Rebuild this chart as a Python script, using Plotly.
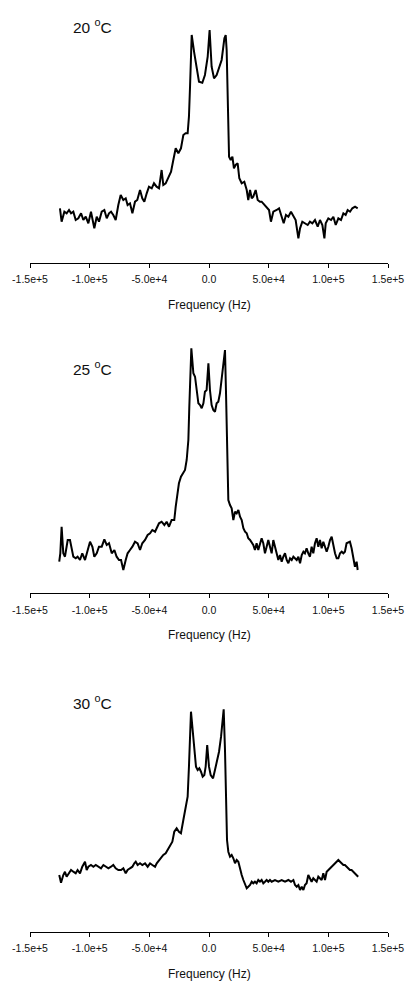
import plotly.graph_objects as go

# ---------------- data (frequency in kHz, intensity in arbitrary units) ----------------
freq_20 = [-124.9, -123.5, -121.2, -119.3, -117.3, -115.6, -113.7, -111.7, -109.5, -107.2,
           -105.3, -103.3, -101.1, -98.9, -96.1, -94.1, -92.2, -89.9, -87.7, -85.7,
           -83.8, -82.1, -80.2, -78.2, -76.0, -74.0, -71.8, -69.8, -68.2, -66.2,
           -64.2, -62.0, -60.1, -57.8, -55.9, -54.2, -52.2, -50.3, -48.0, -46.1,
           -43.9, -41.9, -39.7, -38.3, -36.3, -34.1, -31.8, -29.9, -27.9, -25.7,
           -23.5, -21.5, -19.6, -17.9, -16.8, -15.9, -15.1, -14.5, -12.3, -10.3,
           -8.4, -5.6, -3.4, -1.1, 0.5, 2.2, 4.2, 6.4, 8.4, 10.6,
           12.9, 14.0, 14.8, 15.6, 16.8, 18.2, 19.6, 20.9, 22.3, 24.0,
           25.4, 27.4, 29.6, 31.6, 32.9, 34.4, 35.8, 37.1, 39.1, 40.8,
           42.7, 44.1, 46.4, 48.3, 50.3, 51.9, 53.9, 56.7, 58.7, 60.9,
           62.6, 64.5, 66.5, 68.7, 70.7, 72.6, 74.9, 76.3, 78.2, 80.4,
           82.7, 84.6, 86.6, 88.8, 91.1, 93.0, 95.0, 96.7, 97.8, 100.0,
           102.3, 104.2, 106.2, 108.4, 110.6, 112.6, 114.5, 116.2, 118.2, 120.1,
           122.4, 124.6]
int_20 = [54.4, 41.0, 51.0, 49.4, 52.7, 49.4, 51.0, 42.7, 44.4, 49.4,
          42.7, 46.0, 39.4, 51.0, 34.4, 46.0, 41.0, 51.0, 52.7, 44.4,
          49.4, 51.0, 47.7, 42.7, 57.7, 67.7, 62.7, 64.4, 57.7, 59.4,
          49.4, 61.0, 62.7, 72.7, 64.4, 61.0, 69.4, 76.0, 74.4, 79.4,
          76.0, 74.4, 92.7, 77.7, 79.4, 86.0, 91.0, 102.7, 114.4, 109.4,
          114.4, 127.7, 129.4, 129.4, 146.0, 176.0, 209.4, 227.7, 209.4, 192.7,
          181.0, 180.0, 187.7, 206.0, 232.7, 196.0, 184.4, 187.7, 196.0, 202.7,
          224.4, 227.7, 212.7, 159.4, 106.0, 102.7, 106.0, 94.4, 97.7, 99.4,
          84.4, 79.4, 81.0, 72.7, 62.7, 72.7, 64.4, 66.0, 72.7, 62.7,
          61.0, 61.0, 57.7, 54.4, 52.7, 41.0, 51.0, 52.7, 54.4, 46.0,
          39.4, 47.7, 46.0, 51.0, 46.0, 42.7, 24.4, 34.4, 41.0, 39.4,
          37.7, 41.0, 39.4, 42.7, 36.0, 42.7, 37.7, 24.4, 39.4, 44.4,
          42.7, 46.0, 37.7, 44.4, 42.7, 49.4, 47.7, 52.7, 51.0, 54.4,
          56.0, 54.4]

freq_25 = [-125.5, -124.6, -123.5, -122.1, -120.7, -118.4, -116.5, -115.1, -113.7, -111.7,
           -110.1, -108.1, -106.2, -103.9, -101.7, -99.7, -97.7, -96.1, -94.1, -92.2,
           -89.9, -87.7, -85.7, -83.8, -81.5, -79.3, -77.4, -75.4, -73.7, -71.8,
           -69.8, -68.2, -66.2, -64.2, -62.0, -59.8, -57.8, -55.9, -53.6, -51.4,
           -49.4, -47.5, -45.2, -43.8, -41.9, -39.7, -37.4, -35.5, -33.5, -31.3,
           -29.1, -27.9, -26.3, -25.2, -23.5, -21.5, -20.1, -18.7, -17.3, -16.5,
           -15.6, -14.8, -13.1, -11.7, -10.3, -8.9, -7.5, -6.1, -4.7, -3.4,
           -2.0, -0.5, 0.8, 2.2, 3.6, 5.0, 6.4, 7.8, 9.2, 10.6,
           12.0, 13.4, 14.2, 15.1, 16.2, 17.6, 19.0, 20.4, 21.8, 23.2,
           24.6, 26.0, 27.4, 28.8, 30.2, 31.6, 32.9, 34.4, 35.8, 37.1,
           38.5, 39.9, 41.3, 42.7, 44.1, 45.5, 46.9, 48.3, 49.7, 51.1,
           52.5, 53.9, 55.3, 56.7, 58.1, 59.5, 60.9, 62.3, 63.7, 65.1,
           66.5, 67.9, 69.3, 70.7, 72.1, 73.5, 74.9, 76.3, 77.7, 79.1,
           80.4, 81.8, 83.2, 84.6, 86.0, 87.4, 88.8, 90.2, 91.6, 93.0,
           94.4, 95.8, 97.2, 98.6, 100.0, 101.4, 102.8, 104.2, 105.6, 107.0,
           108.4, 109.8, 111.2, 112.6, 113.9, 115.3, 116.7, 118.1, 119.5, 121.0,
           122.3, 123.7, 124.6]
int_25 = [31.6, 40.0, 66.6, 40.0, 36.6, 53.3, 53.3, 43.3, 36.6, 35.0,
          36.6, 33.3, 40.0, 33.3, 43.3, 51.6, 46.6, 36.6, 40.0, 46.6,
          46.6, 54.0, 48.3, 50.0, 40.0, 43.3, 36.6, 33.3, 33.3, 23.3,
          33.3, 40.0, 43.3, 46.6, 51.6, 50.0, 43.3, 50.0, 53.3, 58.3,
          60.0, 63.3, 61.6, 65.0, 70.0, 71.6, 68.3, 71.6, 66.6, 73.3,
          73.3, 86.6, 103.3, 110.0, 116.6, 120.0, 123.3, 133.3, 153.3, 186.6,
          220.0, 245.0, 220.0, 216.6, 203.3, 190.0, 188.3, 185.0, 190.0, 201.6,
          203.3, 230.0, 203.3, 188.3, 183.3, 181.6, 190.0, 191.6, 200.0, 216.6,
          233.3, 243.3, 203.3, 136.6, 93.3, 88.3, 85.0, 73.3, 81.6, 80.0,
          83.3, 76.6, 73.3, 65.0, 61.6, 60.0, 55.0, 53.3, 50.0, 48.3,
          43.3, 50.0, 43.3, 48.3, 55.0, 50.0, 40.0, 46.6, 53.3, 46.6,
          40.0, 53.3, 46.6, 40.0, 33.3, 38.3, 31.6, 36.6, 40.0, 33.3,
          30.0, 35.0, 33.3, 36.6, 35.0, 33.3, 36.6, 30.0, 38.3, 41.6,
          40.0, 45.0, 40.0, 36.6, 46.6, 40.0, 50.0, 55.0, 46.6, 53.3,
          45.0, 51.6, 46.6, 41.6, 46.6, 53.3, 56.6, 46.6, 40.0, 35.0,
          35.0, 40.0, 41.6, 40.0, 41.6, 50.0, 50.6, 51.6, 45.0, 36.6,
          26.6, 31.6, 23.3]

freq_30 = [-125.5, -124.0, -122.1, -120.7, -119.3, -117.3, -115.6, -113.7, -111.7, -110.1,
           -108.1, -106.2, -103.9, -102.5, -101.1, -98.9, -96.9, -94.9, -92.7, -90.5,
           -88.5, -86.5, -84.3, -82.1, -80.2, -78.2, -76.0, -73.7, -71.8, -69.8,
           -68.2, -66.2, -64.2, -62.6, -61.4, -59.8, -57.8, -55.9, -53.6, -51.4,
           -49.4, -47.5, -45.2, -43.8, -41.9, -40.2, -38.3, -36.3, -34.7, -32.7,
           -30.7, -29.1, -27.1, -25.2, -23.5, -21.5, -19.6, -17.9, -16.8, -15.9,
           -15.1, -13.7, -12.3, -10.9, -9.5, -8.1, -6.7, -5.3, -3.9, -2.8,
           -1.5, 0.0, 1.4, 3.4, 5.0, 6.7, 8.4, 10.1, 11.5, 12.3,
           13.4, 14.2, 15.1, 16.2, 17.6, 19.0, 20.4, 21.8, 23.2, 24.6,
           26.0, 27.4, 28.8, 30.2, 31.6, 32.9, 34.4, 35.8, 37.1, 38.5,
           39.9, 41.3, 42.7, 44.1, 45.5, 46.9, 48.3, 49.7, 51.1, 52.5,
           55.3, 58.1, 60.9, 63.7, 66.5, 68.7, 70.7, 72.1, 73.5, 74.9,
           76.3, 77.7, 79.1, 80.4, 81.8, 83.2, 84.6, 86.0, 87.4, 88.8,
           90.2, 91.6, 93.0, 94.4, 95.8, 97.2, 98.6, 100.0, 101.4, 102.8,
           104.2, 105.6, 107.0, 108.4, 109.8, 111.2, 112.6, 113.9, 115.3, 116.7,
           118.1, 119.5, 120.9, 122.3, 123.7, 125.0]
int_30 = [56.7, 49.0, 56.7, 60.0, 55.0, 58.4, 61.7, 60.0, 58.4, 61.7,
          58.4, 65.0, 70.0, 61.7, 65.0, 66.7, 65.0, 66.7, 65.0, 63.4,
          66.7, 65.0, 63.4, 65.0, 66.7, 63.4, 61.7, 61.7, 63.4, 58.4,
          61.7, 63.4, 65.0, 68.4, 70.0, 66.7, 68.4, 66.7, 68.4, 65.0,
          68.4, 66.7, 65.0, 68.4, 71.7, 73.4, 76.7, 78.4, 81.7, 86.7,
          90.0, 100.0, 103.4, 100.0, 98.4, 111.7, 125.0, 135.0, 165.0, 198.4,
          220.0, 201.7, 181.7, 165.0, 161.7, 163.4, 160.0, 155.0, 156.7, 165.0,
          186.7, 165.0, 156.7, 153.4, 161.7, 170.0, 180.0, 195.0, 211.7, 222.4,
          181.7, 131.7, 91.7, 80.0, 75.0, 76.7, 73.4, 68.4, 71.7, 70.0,
          61.7, 56.7, 51.7, 46.7, 43.4, 45.0, 46.7, 50.0, 48.4, 50.0,
          48.4, 51.7, 50.0, 51.7, 48.4, 50.0, 51.7, 50.0, 51.7, 50.0,
          51.7, 50.0, 51.7, 50.0, 51.7, 50.0, 51.7, 46.7, 45.0, 46.7,
          41.7, 45.0, 41.7, 46.7, 48.4, 56.7, 53.4, 50.0, 53.4, 51.7,
          50.0, 55.0, 53.4, 51.7, 58.4, 51.7, 60.0, 61.7, 63.4, 65.0,
          66.7, 68.4, 70.0, 71.7, 70.0, 68.4, 66.7, 66.7, 65.0, 63.4,
          61.7, 61.7, 60.0, 58.4, 56.7, 55.0]

temperatures = ["20", "25", "30"]
tick_values = [-1.5e5, -1.0e5, -5.0e4, 0.0, 5.0e4, 1.0e5, 1.5e5]
tick_labels = ["-1.5e+5", "-1.0e+5", "-5.0e+4", "0.0", "5.0e+4", "1.0e+5", "1.5e+5"]
x_title = "Frequency (Hz)"

# ---------------- layout (pixel geometry) ----------------
W, H = 406, 983
x_left, x_right = 30, 388
axis_px = [262.7, 593.3, 931.7]   # y of each x-axis line
span_px = 260
label_px = [(70.7, 26.0), (70.7, 367.7), (70.7, 701.5)]
title_offset = 42
FONT = "Liberation Sans, Arial, sans-serif"

series = [(freq_20, int_20), (freq_25, int_25), (freq_30, int_30)]

fig = go.Figure()
layout = dict(
    template="none",
    autosize=False,
    width=W, height=H,
    margin=dict(l=0, r=0, t=0, b=0, pad=0, autoexpand=False),
    paper_bgcolor="white", plot_bgcolor="white",
    showlegend=False,
    font=dict(family=FONT, color="black"),
    annotations=[],
)

for i, (f_khz, inten) in enumerate(series):
    n = "" if i == 0 else str(i + 1)
    fig.add_trace(go.Scatter(
        x=[v * 1000 for v in f_khz], y=inten, mode="lines",
        line=dict(color="black", width=2),
        xaxis="x" + n, yaxis="y" + n, hoverinfo="skip",
    ))
    bottom = 1 - axis_px[i] / H
    top = 1 - (axis_px[i] - span_px) / H
    layout["xaxis" + n] = dict(
        domain=[x_left / W, x_right / W], anchor="y" + n,
        range=[-1.5e5, 1.5e5], showgrid=False, zeroline=False,
        automargin=False, fixedrange=True,
        showline=True, linecolor="black", linewidth=1,
        ticks="outside", ticklen=4, tickwidth=1, tickcolor="black",
        tickvals=tick_values, ticktext=tick_labels,
        tickfont=dict(size=10.5, family=FONT, color="#111"),
        ticklabelstandoff=3,
    )
    layout["yaxis" + n] = dict(
        domain=[bottom, top], anchor="x" + n, range=[0, span_px],
        visible=False, showgrid=False, zeroline=False, automargin=False,
        fixedrange=True,
    )
    layout["annotations"].append(dict(
        xref="paper", yref="paper",
        x=(x_left + x_right) / 2 / W, y=1 - (axis_px[i] + title_offset) / H,
        xanchor="center", yanchor="middle", showarrow=False,
        text=x_title, font=dict(size=12, family=FONT, color="#111"),
    ))
    lx, ly = label_px[i]
    layout["annotations"].append(dict(
        xref="paper", yref="paper",
        x=lx / W, y=1 - ly / H,
        xanchor="left", yanchor="middle", showarrow=False,
        text=temperatures[i] + " <sup>o</sup>C",
        font=dict(size=15.5, family=FONT, color="#111"),
    ))

fig.update_layout(**layout)
fig.write_html("out.html", config={"displayModeBar": False, "staticPlot": True},
               post_script="document.body.style.margin='0';")
